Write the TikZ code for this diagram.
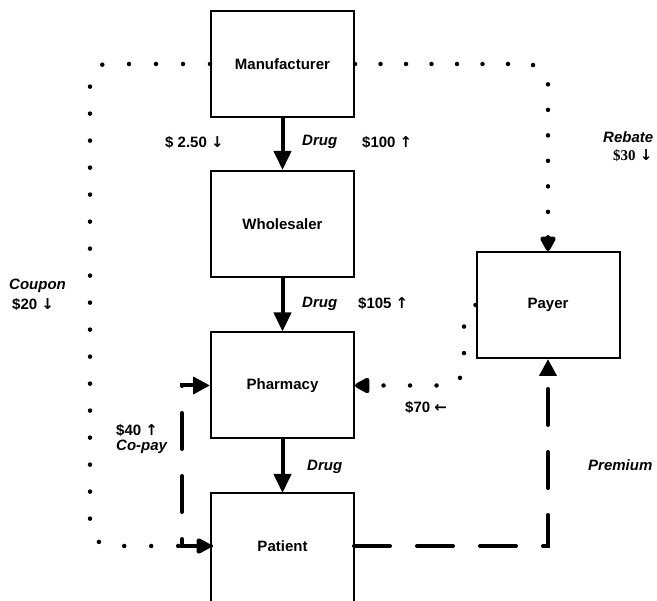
\documentclass[tikz,border=0pt]{standalone}
\usepackage{fontspec}
\setmainfont{Liberation Sans}
\newfontfamily\arrfont{DejaVu Sans}
\newfontfamily\serfont{Liberation Serif}
\usetikzlibrary{arrows.meta}
\newcommand{\ar}[1]{{\arrfont\bfseries\upshape #1}}
\begin{document}
\begin{tikzpicture}[x=1pt,y=-1pt,
  lbl/.style={font=\fontsize{15}{18}\selectfont\bfseries, inner sep=0pt, anchor=west},
  ilbl/.style={font=\fontsize{15}{18}\selectfont\bfseries\itshape, inner sep=0pt, anchor=west},
  entity/.style={draw, line width=2pt, minimum width=143pt, minimum height=106pt, inner sep=0pt,
    font=\fontsize{15}{18}\selectfont\bfseries},
  openentity/.style={entity, draw=none, outer sep=0pt},
  boxline/.style={line width=2pt},
  drugflow/.style={line width=4pt, -{Triangle[width=17pt,length=19pt]}},
  dotflow/.style={line width=4.5pt, line cap=round, dash pattern=on 0pt off 26.5pt,
    -{Triangle[width=17pt,length=17pt,round=false]}},
  dashflow/.style={line width=4pt, line cap=round, dash pattern=on 36pt off 27pt,
    -{Triangle[width=17pt,length=17pt]}}
]
\useasboundingbox (0,0) rectangle (657,601);
\clip (0,0) rectangle (657,601);

\node[entity] (man) at (282.5,64) {Manufacturer};
\node[entity] (who) at (282.5,224) {Wholesaler};
\node[entity] (pha) at (282.5,385.5) {Pharmacy};
\node[openentity] (pat) at (282.5,546) {Patient};
\node[entity] (pay) at (548,305) {Payer};
% patient box continues past the lower edge of the picture
\draw[boxline] ([yshift=-30pt]pat.south west) -- (pat.north west) -- (pat.north east) -- ([yshift=-30pt]pat.south east);

% drug flow
\draw[drugflow] (man.south) -- (who.north);
\draw[drugflow] (who.south) -- (pha.north);
\draw[drugflow] (pha.south) -- (pat.north);

% coupon (dotted)
\draw[dotflow, dash pattern=on 0pt off 27pt] (man.west) -- (103,64) -- (90,77) -- (90,533) -- (103,546) -- (pat.west);
% rebate (dotted)
\draw[dotflow, dash pattern=on 0pt off 25.5pt] (man.east) -- (532,64) -- (548,80) -- (pay.north);
% payer -> pharmacy (dotted)
\draw[dotflow] (pay.west) -- (464,316) -- (464,374) -- (452,385.5) -- (pha.east);

% co-pay (dashed)
\draw[dashflow] (pat.west) -- (182,546) -- (182,385.5) -- (pha.west);
% premium (dashed)
\draw[dashflow] (pat.east) -- (548,546) -- (pay.south);

% labels
\node[lbl] (l250) at (165,142) {\$ 2.50 \ar{↓}};
\node[ilbl] (ldrug1) at (302,142) {Drug};
\node[lbl] (l100) at (362,142) {\$100 \ar{↑}};
\node[ilbl] (lreb) at (603,137) {Rebate};
\node[lbl] (l30) at (613,156) {{\serfont\$30} \ar{↓}};
\node[ilbl] (ldrug2) at (302,304) {Drug};
\node[lbl] (l105) at (358,303) {\$105 \ar{↑}};
\node[ilbl] (lcoup) at (9,286) {Coupon};
\node[lbl] (l20) at (12,304) {\$20 \ar{↓}};
\node[lbl] (l40) at (116,430) {\$40 \ar{↑}};
\node[ilbl] (lcopay) at (116,447) {Co-pay};
\node[lbl] (l70) at (405,407) {\$70 \ar{←}};
\node[ilbl] (ldrug3) at (307,467) {Drug};
\node[ilbl] (lprem) at (588,465) {Premium};
\end{tikzpicture}
\end{document}
